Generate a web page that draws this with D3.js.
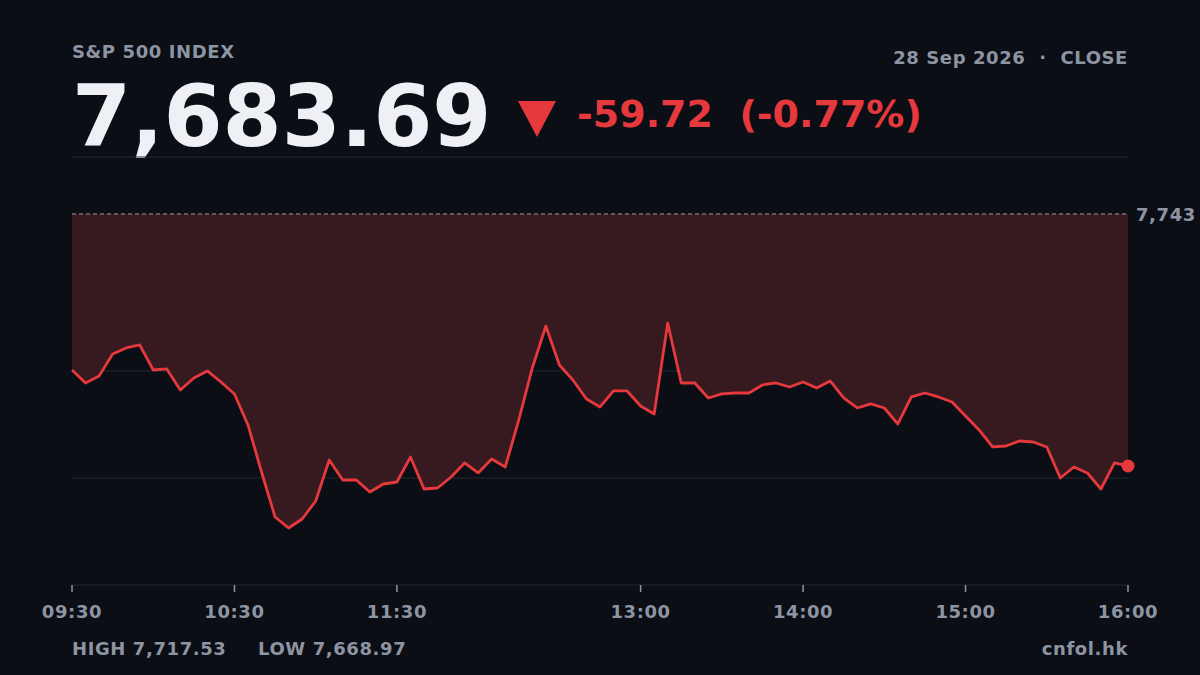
<!DOCTYPE html>
<html><head><meta charset="utf-8">
<script src="https://cdn.jsdelivr.net/npm/d3@7"></script>
<style>
html,body{margin:0;background:#0b0e15;}
svg{display:block;font-family:"DejaVu Sans",sans-serif;}
text{white-space:pre;}
</style></head>
<body><svg id="chart" width="1200" height="675" xml:space="preserve"></svg>
<script>
// -- Data --
const prevClose = 7743.41;
const lastValue = 7683.69;
const change = "-59.72";
const changePct = "(-0.77%)";
const highLabel = "HIGH 7,717.53";
const lowLabel = "LOW 7,668.97";
// one value every 5 minutes from 09:30 to 16:00
const values = [
  7706.44, 7703.36, 7705.02, 7710.23, 7711.66, 7712.37, 7706.44, 7706.68, 7701.70, 7704.55,
  7706.21, 7703.60, 7700.76, 7693.41, 7682.27, 7671.61, 7669.00, 7671.14, 7675.40, 7685.12,
  7680.38, 7680.38, 7677.53, 7679.43, 7679.90, 7685.83, 7678.24, 7678.48, 7681.09, 7684.41,
  7682.04, 7685.35, 7683.46, 7694.59, 7706.92, 7716.87, 7707.63, 7704.07, 7699.57, 7697.68,
  7701.47, 7701.47, 7697.91, 7696.02, 7717.53, 7703.36, 7703.36, 7699.81, 7700.76, 7700.99,
  7700.99, 7702.89, 7703.36, 7702.41, 7703.60, 7702.18, 7703.84, 7699.81, 7697.44, 7698.39,
  7697.44, 7693.65, 7700.05, 7700.99, 7700.05, 7698.86, 7695.54, 7692.23, 7688.20, 7688.43,
  7689.62, 7689.38, 7688.20, 7680.85, 7683.46, 7682.04, 7678.24, 7684.41, 7683.69
];
const tickMinutes = [0, 60, 120, 210, 270, 330, 390];
const tickLabels = ["09:30", "10:30", "11:30", "13:00", "14:00", "15:00", "16:00"];

const svg = d3.select("#chart");
const red = "#e5393d", gray = "#8d95a3";

const x = d3.scaleLinear().domain([0, 390]).range([72, 1128]);
const y = d3.scaleLinear().domain([7655.5, 7756.9]).range([585, 157]);

function label(xp, yp, txt, anchor) {
  return svg.append("text").attr("x", xp).attr("y", yp).attr("text-anchor", anchor || "start")
    .attr("fill", gray).style("font-size", "18px").style("font-weight", "bold")
    .style("letter-spacing", "0.6px").text(txt);
}

// -- Header --
label(72, 58, "S&P 500 INDEX");
label(1128, 64, "28 Sep 2026  ·  CLOSE", "end");
svg.append("text").attr("x", 72).attr("y", 146).attr("fill", "#eef0f6")
  .style("font-size", "85px").style("font-weight", "bold").text(d3.format(",.2f")(lastValue));
svg.append("path").attr("d", "M518,101 L556,101 L537,137 Z").attr("fill", red);
svg.append("text").attr("x", 577).attr("y", 127).attr("fill", red)
  .style("font-size", "38px").style("font-weight", "bold").text(change + "  " + changePct);

// -- Grid --
svg.selectAll(".grid").data(d3.range(5)).enter().append("line")
  .attr("x1", 72).attr("x2", 1128)
  .attr("y1", i => 157 + i * 107).attr("y2", i => 157 + i * 107)
  .attr("stroke", "#22262f").attr("stroke-width", 1);

// -- Area between prev close and price --
const area = d3.area().x((d, i) => x(i * 5)).y0(y(prevClose)).y1(d => y(d));
svg.append("path").datum(values).attr("d", area).attr("fill", "#361a20");

svg.append("line").attr("x1", 72).attr("x2", 1128).attr("y1", y(prevClose)).attr("y2", y(prevClose))
  .attr("stroke", "#a59aa0").attr("stroke-dasharray", "4,3").attr("stroke-width", 1);
label(1136, y(prevClose) + 7, "7,743");

const line = d3.line().x((d, i) => x(i * 5)).y(d => y(d));
svg.append("path").datum(values).attr("d", line).attr("fill", "none")
  .attr("stroke", red).attr("stroke-width", 2.8).attr("stroke-linejoin", "round");
svg.append("circle").attr("cx", x(390)).attr("cy", y(values[values.length - 1])).attr("r", 6.5).attr("fill", red);

// -- X axis --
svg.selectAll(".tick").data(tickMinutes).enter().append("line")
  .attr("x1", d => x(d)).attr("x2", d => x(d)).attr("y1", 585).attr("y2", 592)
  .attr("stroke", gray).attr("stroke-width", 1.5);
tickMinutes.forEach((m, i) => label(x(m), 618, tickLabels[i], "middle"));

// -- Footer --
label(72, 655, highLabel);
label(258, 655, lowLabel);
label(1128, 655, "cnfol.hk", "end");
</script></body></html>
